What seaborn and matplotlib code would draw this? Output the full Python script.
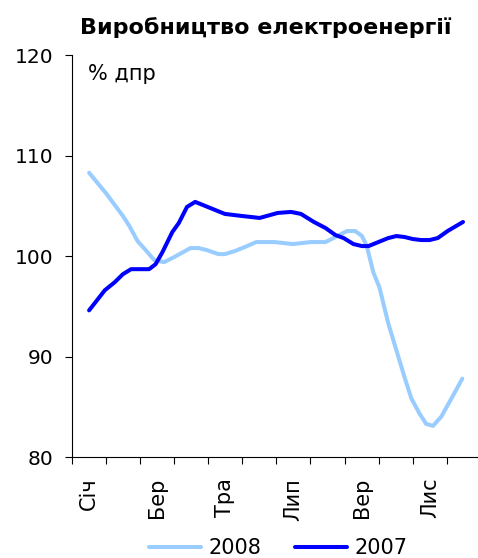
import numpy as np
import pandas as pd
import matplotlib
matplotlib.use("Agg")
import matplotlib.pyplot as plt
import seaborn as sns

# -------------------------
# Data (x in months from start of year)
# -------------------------
months = ["Січ", "Бер", "Тра", "Лип", "Вер", "Лис"]

x_2008 = [0.51, 1.02, 1.50, 1.69, 1.93, 2.22, 2.42, 2.71, 3.00, 3.48, 3.72, 3.96,
          4.30, 4.49, 4.78, 5.07, 5.41, 5.94, 6.48, 7.01, 7.44, 7.73, 8.07, 8.31,
          8.51, 8.65, 8.84, 9.02, 9.28, 9.52, 9.76, 9.96, 10.20, 10.39, 10.59,
          10.83, 11.16, 11.45]
y_2008 = [108.3, 106.2, 104.0, 103.0, 101.5, 100.4, 99.6, 99.4, 99.9, 100.8, 100.8, 100.6,
          100.2, 100.2, 100.5, 100.9, 101.4, 101.4, 101.2, 101.4, 101.4, 101.9, 102.5, 102.5,
          102.0, 101.0, 98.4, 96.9, 93.3, 90.6, 87.9, 85.8, 84.3, 83.3, 83.1,
          84.0, 86.0, 87.8]

x_2007 = [0.51, 0.97, 1.26, 1.50, 1.74, 2.27, 2.46, 2.66, 2.95, 3.14, 3.38, 3.62,
          3.91, 4.20, 4.49, 4.98, 5.51, 6.04, 6.43, 6.72, 7.10, 7.44, 7.73, 7.97,
          8.26, 8.51, 8.70, 8.99, 9.28, 9.52, 9.76, 10.00, 10.25, 10.49, 10.73,
          11.02, 11.47]
y_2007 = [94.6, 96.6, 97.4, 98.2, 98.7, 98.7, 99.2, 100.4, 102.4, 103.3, 104.9, 105.4,
          105.0, 104.6, 104.2, 104.0, 103.8, 104.3, 104.4, 104.2, 103.4, 102.8, 102.1, 101.8,
          101.2, 101.0, 101.0, 101.4, 101.8, 102.0, 101.9, 101.7, 101.6, 101.6, 101.8,
          102.5, 103.4]

df = pd.concat([
    pd.DataFrame({"x": x_2008, "y": y_2008, "year": "2008"}),
    pd.DataFrame({"x": x_2007, "y": y_2007, "year": "2007"}),
])

# -------------------------
# Style
# -------------------------
sns.set_theme(style="white")
plt.rcParams['font.family'] = ['DejaVu Sans']
plt.rcParams['text.color'] = 'black'
plt.rcParams['xtick.color'] = 'black'
plt.rcParams['ytick.color'] = 'black'

fig = plt.figure(figsize=(4.78, 5.58), dpi=100)
ax = fig.add_axes([0.150, 0.181, 0.850, 0.720])

sns.lineplot(data=df, x="x", y="y", hue="year", hue_order=["2008", "2007"],
             palette={"2008": "#99CCFF", "2007": "#0000FF"},
             linewidth=2.9, estimator=None, sort=False, ax=ax, legend=True)

ax.set_xlim(0, 11.91)
ax.set_ylim(80, 120)
ax.set_yticks([80, 90, 100, 110, 120])
ax.set_xticks(np.arange(0, 12), labels=[])
ax.set_xticks(np.arange(0.5, 12, 2), labels=months, minor=True)
ax.tick_params(axis="x", which="major", bottom=True, direction="out", length=5, width=0.8)
ax.tick_params(axis="x", which="minor", bottom=True, length=0, labelsize=15, rotation=90, pad=15)
ax.tick_params(axis="y", left=True, direction="out", length=5, width=0.8, labelsize=14.5, pad=8)
for lbl in ax.get_xticklabels(minor=True):
    lbl.set_verticalalignment("top")

for s in ["top", "right"]:
    ax.spines[s].set_visible(False)
for s in ["left", "bottom"]:
    ax.spines[s].set_color("black")
    ax.spines[s].set_linewidth(0.8)

ax.set_xlabel("")
ax.set_ylabel("")

ax.text(0.48, 118.1, "% дпр", fontsize=15, ha="left", va="center")
fig.text(0.555, 0.95, "Виробництво електроенергії", fontsize=16, fontweight="bold",
         ha="center", va="center")

handles, labels = ax.get_legend_handles_labels()
ax.legend(handles, labels, loc="center", bbox_to_anchor=(0.582, 0.018),
          bbox_transform=fig.transFigure, ncol=2, frameon=False, fontsize=15,
          handlelength=2.5, handletextpad=0.35, columnspacing=1.6,
          borderpad=0, borderaxespad=0)

fig.savefig("out.png", dpi=100)
